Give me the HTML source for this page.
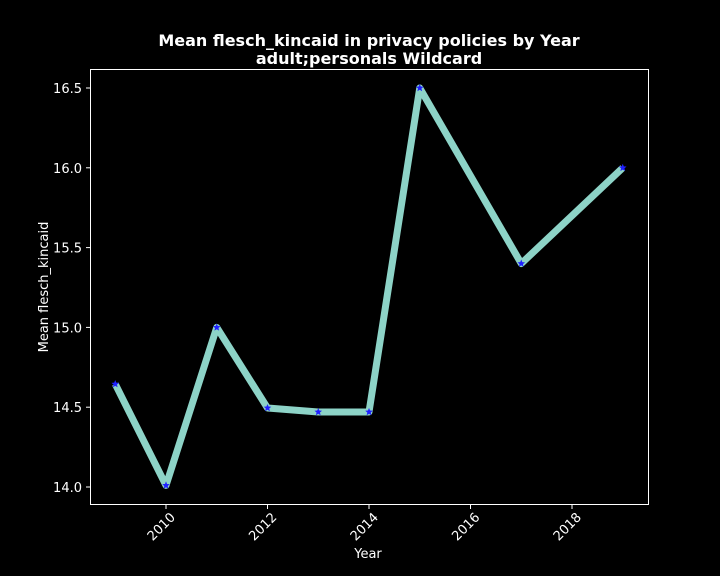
<!DOCTYPE html>
<html><head><meta charset="utf-8"><style>
html,body{margin:0;padding:0;background:#000;}
svg{display:block;font-family:"DejaVu Sans","Liberation Sans",sans-serif;}
</style></head><body>
<svg id="chart" width="720" height="576" viewBox="0 0 720 576">
<rect width="720" height="576" fill="#000"/>
<text x="369" y="46" fill="#fff" font-size="16" font-weight="bold" text-anchor="middle">Mean flesch_kincaid in privacy policies by Year</text>
<text x="369" y="64" fill="#fff" font-size="16" font-weight="bold" text-anchor="middle">adult;personals Wildcard</text>
<rect x="90.5" y="69.5" width="558" height="435" fill="none" stroke="#fff" stroke-width="1"/>
<g id="yticks"></g><g id="xticks"></g><g id="series"></g>
<text x="48" y="287" fill="#fff" font-size="13" text-anchor="middle" transform="rotate(-90 48 287)">Mean flesch_kincaid</text>
<text x="368" y="558" fill="#fff" font-size="13" text-anchor="middle">Year</text>
</svg>
<script>
const years = [2009, 2010, 2011, 2012, 2013, 2014, 2015, 2017, 2019];
const values = [14.645, 14.01, 15.0, 14.495, 14.47, 14.47, 16.5, 15.4, 16.0];
const yTickValues = [14.0, 14.5, 15.0, 15.5, 16.0, 16.5];
const yTickLabels = ["14.0", "14.5", "15.0", "15.5", "16.0", "16.5"];
const xTickValues = [2010, 2012, 2014, 2016, 2018];
const xTickLabels = ["2010", "2012", "2014", "2016", "2018"];

const NS = "http://www.w3.org/2000/svg";
function xs(v){ return 166 + (v - 2010) * 50.75; }
function ys(v){ return 487 - (v - 14.0) * 159.6; }
function mk(tag, attrs, parent){ const e = document.createElementNS(NS, tag); for (const k in attrs) e.setAttribute(k, attrs[k]); parent.appendChild(e); return e; }

const yg = document.getElementById('yticks');
yTickValues.forEach((v, i) => {
  const y = ys(v);
  const t = mk('line', {x1: 86, x2: 90, y1: y, y2: y, stroke: '#fff'}, yg);
  
  
  const l = mk('text', {x: 82, y: y + 5, fill: '#fff', 'font-size': 13, 'text-anchor': 'end'}, yg);
  l.textContent = yTickLabels[i];
  
  
});
const xg = document.getElementById('xticks');
xTickValues.forEach((v, i) => {
  const x = xs(v);
  const t = mk('line', {x1: x, x2: x, y1: 505, y2: 509, stroke: '#fff'}, xg);
  
  
  const ax = x + 10, ay = 518;
  const l = mk('text', {x: ax, y: ay, fill: '#fff', 'font-size': 13, 'text-anchor': 'end', transform: `rotate(-45 ${ax} ${ay})`}, xg);
  l.textContent = xTickLabels[i];
  
  
});
const sg = document.getElementById('series');
const pts = years.map((y, i) => xs(y) + ',' + ys(values[i])).join(' ');
const line = mk('polyline', {points: pts, fill: 'none', stroke: '#8dd3c7', 'stroke-width': 7, 'stroke-linejoin': 'round', 'stroke-linecap': 'butt'}, sg);


years.forEach((yr, i) => {
  const cx = xs(yr), cy = ys(values[i]);
  let p = [];
  for (let k = 0; k < 10; k++) {
    const r = k % 2 === 0 ? 4 : 1.8;
    const a = -Math.PI / 2 + k * Math.PI / 5;
    p.push((cx + r * Math.cos(a)).toFixed(2) + ',' + (cy + r * Math.sin(a)).toFixed(2));
  }
  const s = mk('polygon', {points: p.join(' '), fill: '#1f1fff'}, sg);
  
  
});
</script>
</body></html>
